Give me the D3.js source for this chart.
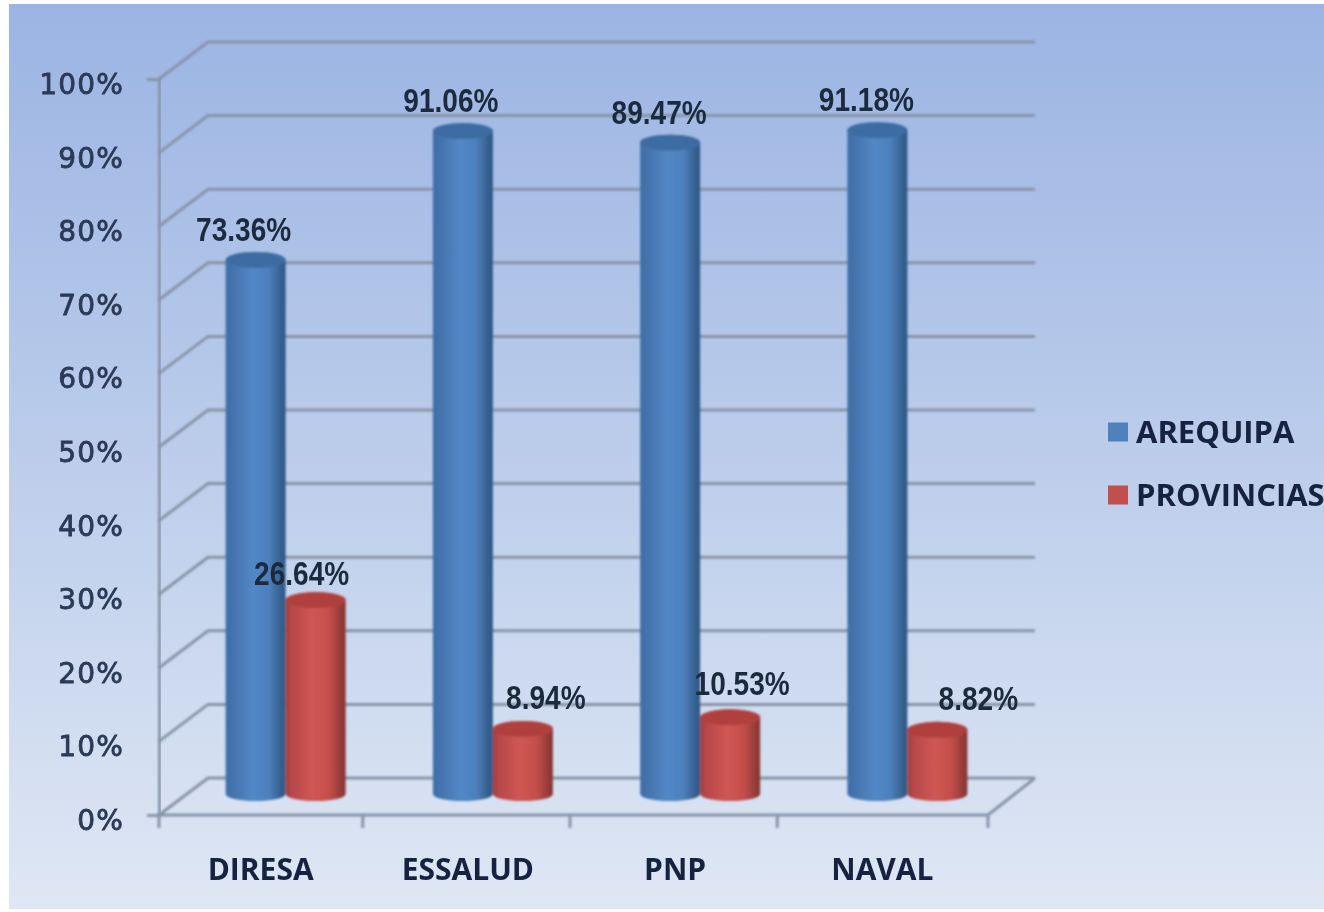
<!DOCTYPE html>
<html><head><meta charset="utf-8">
<script src="https://cdn.jsdelivr.net/npm/d3@7"></script>
<style>html,body{margin:0;padding:0;background:#fff;overflow:hidden}svg{display:block}</style>
</head><body><svg id="c" width="1324" height="912"></svg>
<script>
const categories = ["DIRESA","ESSALUD","PNP","NAVAL"];
const seriesNames = ["AREQUIPA","PROVINCIAS"];
const arequipa = [73.36,91.06,89.47,91.18];
const provincias = [26.64,8.94,10.53,8.82];
const yTicks = [0,10,20,30,40,50,60,70,80,90,100];
const seriesColors = ["#4f81bd","#c0504d"];

const svg = d3.select("#c");
const defs = svg.append("defs");
const bg = defs.append("linearGradient").attr("id","bg").attr("x1",0).attr("y1",0).attr("x2",0).attr("y2",1);
[[0,"#9bb4e3"],[.5,"#bccdeb"],[1,"#dfe7f4"]].forEach(s=>bg.append("stop").attr("offset",s[0]).attr("stop-color",s[1]));
function cylGrad(id,stops){
  const g=defs.append("linearGradient").attr("id",id).attr("x1",0).attr("x2",1).attr("y1",0).attr("y2",0);
  stops.forEach(s=>g.append("stop").attr("offset",s[0]).attr("stop-color",s[1]));
}
cylGrad("cyl0",[[0,"#3f6fa8"],[.12,"#4473ac"],[.45,"#5487c6"],[.72,"#4d80bd"],[.92,"#36608f"],[1,"#2f5785"]]);
cylGrad("cyl1",[[0,"#a23f3c"],[.12,"#b9494a"],[.45,"#cf5753"],[.72,"#c54f4b"],[.92,"#953c39"],[1,"#853533"]]);
const soft=defs.append("filter").attr("id","soft").attr("x","-10%").attr("y","-10%").attr("width","120%").attr("height","120%");
soft.append("feGaussianBlur").attr("stdDeviation",0.9);
const softer=defs.append("filter").attr("id","softer").attr("x","-10%").attr("y","-30%").attr("width","120%").attr("height","160%");
softer.append("feGaussianBlur").attr("stdDeviation",0.6);

svg.append("rect").attr("x",9).attr("y",4).attr("width",1315).attr("height",905).attr("fill","url(#bg)");

const left=159,right=988,depthX=49,depthY=-37;
const y=d3.scaleLinear().domain([0,100]).range([815,79]);
const x=d3.scaleBand().domain(categories).range([left,right]);
const barY=d3.scaleLinear().domain([0,100]).range([794,66]);
const gridColor="#8794a8";

const plot=svg.append("g").attr("filter","url(#soft)");
plot.append("g").selectAll("path").data(yTicks).join("path")
  .attr("fill","none").attr("stroke",gridColor).attr("stroke-width",3)
  .attr("d",t=>d3.line()([[left,y(t)],[left+depthX,y(t)+depthY],[right+depthX-2,y(t)+depthY]]));
plot.append("path").attr("fill","none").attr("stroke",gridColor).attr("stroke-width",3)
  .attr("d",d3.line()([[left,y(0)],[right,y(0)],[right+depthX-2,y(0)+depthY]]));

const axisY=svg.append("g").attr("transform",`translate(${left},0)`)
  .call(d3.axisLeft(y).tickValues(yTicks).tickFormat(d=>d+"%").tickSize(12).tickPadding(23));
axisY.select(".domain").attr("stroke",gridColor).attr("stroke-width",3).attr("filter","url(#soft)");
axisY.selectAll(".tick line").attr("stroke",gridColor).attr("stroke-width",3).attr("filter","url(#soft)");
axisY.selectAll("text").attr("fill","#2b3a55").attr("stroke","#2b3a55").attr("stroke-width",.8)
  .style("font-family","'DejaVu Sans'").style("font-size","28px").style("font-weight",400)
  .style("letter-spacing","1.2px")
  .attr("dy","0.52em").attr("filter","url(#softer)");

const sepShift=[0,-3.5,-3.5,-3.5];
const sepTicks=categories.map((c,i)=>x(c)+sepShift[i]).concat([right]);
svg.append("g").attr("filter","url(#soft)").selectAll("line").data(sepTicks).join("line")
  .attr("x1",d=>d).attr("x2",d=>d).attr("y1",y(0)).attr("y2",y(0)+13)
  .attr("stroke",gridColor).attr("stroke-width",3);

const axisX=svg.append("g").attr("transform",`translate(-2,${y(0)})`)
  .call(d3.axisBottom(x).tickSize(0).tickPadding(44));
axisX.select(".domain").remove();
axisX.selectAll("text").attr("fill","#14233f")
  .style("font-family","'Open Sans'").style("font-size","30px").style("font-weight",700)
  .attr("filter","url(#softer)");

const barW=60, rx=30, ryTop=8, ryBottom=7, depthShift=23;
const series=[arequipa,provincias];
const bars=svg.append("g").attr("filter","url(#soft)");
series.forEach((vals,si)=>{
  const g=bars.append("g").selectAll("g").data(vals).join("g");
  const cx=(d,i)=>x(categories[i])+x.bandwidth()/2+depthShift+(si===0?-barW/2:barW/2);
  g.append("path")
    .attr("fill",`url(#cyl${si})`)
    .attr("d",(d,i)=>{
      const c=cx(d,i),t=barY(d),b=barY(0);
      return `M${c-rx},${t}L${c-rx},${b}A${rx},${ryBottom} 0 0 0 ${c+rx},${b}L${c+rx},${t}A${rx},${ryTop} 0 0 0 ${c-rx},${t}Z`;
    });
  g.append("ellipse").attr("cx",cx).attr("cy",d=>barY(d)).attr("rx",rx).attr("ry",ryTop)
    .attr("fill",si===0?"#3c6ca3":"#b0413e");
});

const labelDx=[[-12,-12,-11,-11],[-14,23,12,41]];
const labelDy=[[-31,-31,-31,-31],[-27,-32,-34,-32]];
const fmt=d=>d.toFixed(2)+"%";
series.forEach((vals,si)=>{
  svg.append("g").selectAll("text").data(vals).join("text")
    .attr("x",(d,i)=>x(categories[i])+x.bandwidth()/2+depthShift+(si===0?-barW/2:barW/2)+labelDx[si][i])
    .attr("y",(d,i)=>barY(d)+labelDy[si][i])
    .attr("dy","0.36em").attr("text-anchor","middle")
    .attr("fill","#1c2a3e").attr("filter","url(#softer)")
    .style("font-family","'Liberation Sans'").style("font-size","33px").style("font-weight",700)
    .text(fmt)
    .attr("lengthAdjust","spacingAndGlyphs")
    .attr("textLength",function(){return this.getComputedTextLength()*0.85;});
});

const lg=svg.append("g");
const legendPos=[432,495];
seriesNames.forEach((n,i)=>{
  lg.append("rect").attr("x",1108).attr("y",legendPos[i]-9.5).attr("width",20).attr("height",19)
    .attr("fill",seriesColors[i]).attr("filter","url(#softer)");
  lg.append("text").attr("x",1136).attr("y",legendPos[i]).attr("dy","0.36em")
    .attr("fill","#14233f").attr("filter","url(#softer)")
    .style("font-family","'Open Sans'").style("font-size","31px").style("font-weight",700)
    .text(n);
});
</script></body></html>
